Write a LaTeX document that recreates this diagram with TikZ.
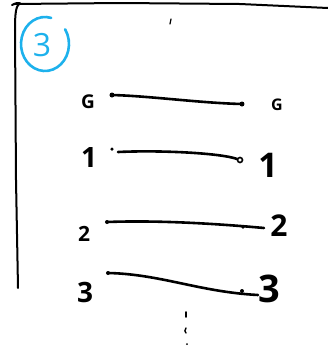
\documentclass[tikz,border=0pt]{standalone}
\usepackage{fontspec}
\setmainfont{Open Sans}
\definecolor{sketchblue}{RGB}{29,177,236}
\begin{document}
\begin{tikzpicture}[x=1pt,y=-1pt,
  ink/.style={line width=2pt,line cap=round,line join=round,black},
  wire/.style={line width=2.6pt,line cap=round,line join=round,black},
  lab/.style={inner sep=0pt,text=black,font=\bfseries},
  endpt/.style={circle,fill=black,inner sep=0pt,minimum size=5pt},
  ring/.style={circle,draw=black,line width=1.6pt,inner sep=0pt,minimum size=5pt}]
\useasboundingbox (0,0) rectangle (328,360);
% frame
\draw[ink] (12,5) .. controls (16,3) and (19,2) .. (20,4);
\draw[ink] (20,3) .. controls (16,6) and (15,12) .. (15,30) -- (16,180) -- (18,288);
\draw[ink] (14,4) -- (120,3) -- (240,4) -- (328,8);
\draw[ink,line width=1.2pt] (171,19) -- (170,24);
% circled 3
\draw[sketchblue,line width=2.6pt,line cap=round] (45,44) ++(-75:24 and 27)
  arc[start angle=-75,end angle=-393,x radius=24,y radius=27];
\node[inner sep=0pt,text=sketchblue] (badge) at (42,45) {\fontsize{32}{32}\selectfont 3};
% row 0
\node[lab] (l0) at (88,102) {\fontsize{19}{19}\selectfont G};
\node[lab] (r0) at (277,105) {\fontsize{16}{16}\selectfont G};
\coordinate (a0) at (112,95);
\coordinate (b0) at (242,104);
\node[endpt] (d0a) at (a0) {};
\node[endpt] (d0b) at (b0) {};
\draw[wire] (a0) .. controls (150,96) and (200,103) .. (b0);
% row 1
\node[lab] (l1) at (89,158) {\fontsize{28}{28}\selectfont 1};
\node[lab] (r1) at (268,165) {\fontsize{34}{34}\selectfont 1};
\coordinate (a1) at (118,152);
\coordinate (b1) at (240,160);
\node[endpt,minimum size=3.5pt] (d1a) at (112,149) {};
\node[ring] (d1b) at (b1) {};
\draw[wire] (a1) .. controls (160,150) and (220,153) .. (d1b);
% row 2
\node[lab] (l2) at (84,234) {\fontsize{21}{21}\selectfont 2};
\node[lab] (r2) at (279,226) {\fontsize{30}{30}\selectfont 2};
\coordinate (a2) at (107,222);
\coordinate (b2) at (264,228);
\node[endpt,minimum size=4pt] (d2a) at (a2) {};
\node[endpt,minimum size=3.5pt] (d2b) at (243,227) {};
\draw[wire] (a2) .. controls (160,220) and (220,224) .. (b2);
% row 3
\node[lab] (l3) at (85,292) {\fontsize{28}{28}\selectfont 3};
\node[lab] (r3) at (269,289) {\fontsize{38}{38}\selectfont 3};
\coordinate (a3) at (108,273);
\coordinate (b3) at (258,295);
\node[endpt,minimum size=4pt] (d3a) at (a3) {};
\node[endpt,minimum size=4pt] (d3b) at (242,291) {};
\draw[wire] (a3) .. controls (160,274) and (200,292) .. (b3);
% continuation marks
\draw[ink,line width=1.6pt] (186,312) -- (186,317);
\draw[ink,line width=1.4pt] (186,328) .. controls (184,330) and (185,332) .. (186,333);
\fill (187,344) circle (1pt);
\end{tikzpicture}
\end{document}
